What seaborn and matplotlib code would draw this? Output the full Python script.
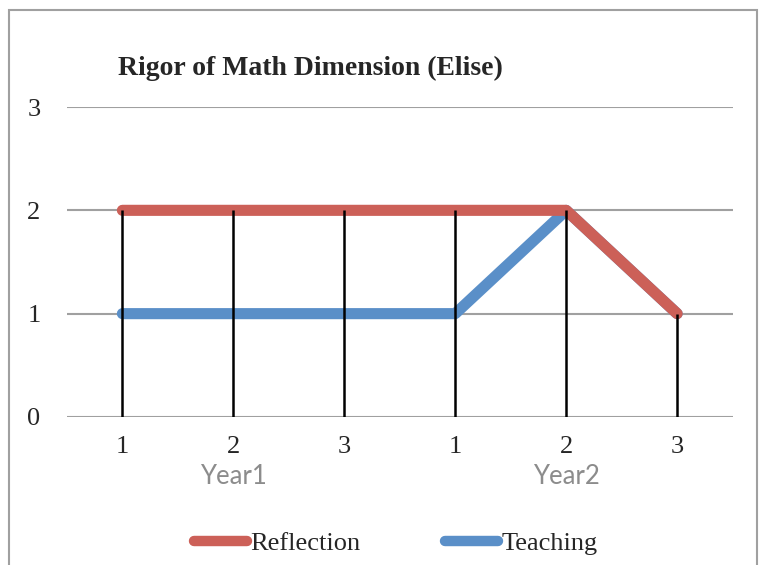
import pandas as pd
import seaborn as sns
import matplotlib.pyplot as plt
from matplotlib.lines import Line2D
from matplotlib.patches import Rectangle
import matplotlib.transforms as mtransforms

sns.set_theme(style="white")
plt.rcParams['font.family'] = ['Liberation Serif', 'DejaVu Serif']

# data
tick_labels = ['1', '2', '3', '1', '2', '3']
year_labels = ['Year1', 'Year2']
reflection = [2, 2, 2, 2, 2, 1]
teaching = [1, 1, 1, 1, 2, 1]

RED = '#CC6058'
BLUE = '#5A8FC8'


def build_frame():
	rows = []
	for i, lab in enumerate(tick_labels):
		rows.append({'pos': i, 'series': 'Teaching', 'value': teaching[i]})
		rows.append({'pos': i, 'series': 'Reflection', 'value': reflection[i]})
	return pd.DataFrame(rows)


def plot_rigor(df: pd.DataFrame):
	fig = plt.figure(figsize=(7.6, 5.65), dpi=100)
	ax = fig.add_axes([0.088, 0.262, 0.876, 0.5486])

	# outer chart border
	fig.patches.append(Rectangle((9 / 760, -0.01), 748 / 760, 1 - 10 / 565 + 0.01,
		transform=fig.transFigure, fill=False, edgecolor='#A0A0A0', linewidth=1.5))

	for y in range(4):
		ax.axhline(y, color='#A0A0A0', linewidth=1.5, zorder=1)

	sns.lineplot(
		data=df[df['series'] == 'Teaching'], x='pos', y='value',
		color=BLUE, linewidth=8, solid_capstyle='round', ax=ax, zorder=3, clip_on=False)
	sns.lineplot(
		data=df[df['series'] == 'Reflection'], x='pos', y='value',
		color=RED, linewidth=8, solid_capstyle='round', ax=ax, zorder=4, clip_on=False)

	# drop lines from the top point to the axis
	tops = [max(a, b) for a, b in zip(reflection, teaching)]
	ax.vlines(range(len(tops)), 0, tops, color='black', linewidth=1.8, zorder=5)

	ax.set_xlim(-0.5, len(tick_labels) - 0.5)
	ax.set_ylim(0, 3)
	ax.set_xticks(range(len(tick_labels)))
	ax.set_xticklabels(tick_labels)
	ax.set_yticks([0, 1, 2, 3])
	ax.tick_params(axis='x', length=0, pad=14, labelsize=19)
	ax.tick_params(axis='y', length=0, pad=19, labelsize=19)
	ax.set_xlabel('')
	ax.set_ylabel('')
	for s in ax.spines.values():
		s.set_visible(False)

	trans = mtransforms.blended_transform_factory(ax.transData, fig.transFigure)
	for k, name in enumerate(year_labels):
		ax.text(1 + 3 * k, 1 - 477 / 565, name, transform=trans, ha='center', va='center',
			fontsize=18.5, color='#8C8C8C', family=['Lato', 'DejaVu Sans'])

	fig.text(118 / 760, 1 - 68 / 565, 'Rigor of Math Dimension (Elise)',
		fontsize=20, fontweight='bold', ha='left', va='center')

	handles = [
		Line2D([], [], color=RED, linewidth=7.5, solid_capstyle='round'),
		Line2D([], [], color=BLUE, linewidth=7.5, solid_capstyle='round'),
	]
	fig.legend(handles, ['Reflection', 'Teaching'], loc='center',
		bbox_to_anchor=(0.521, 1 - 543 / 565), ncol=2, frameon=False,
		fontsize=19, handlelength=2.0, handletextpad=0.15, columnspacing=3.2)

	fig.savefig('out.png', dpi=100)


def main():
	df = build_frame()
	plot_rigor(df)


if __name__ == "__main__":
	main()
